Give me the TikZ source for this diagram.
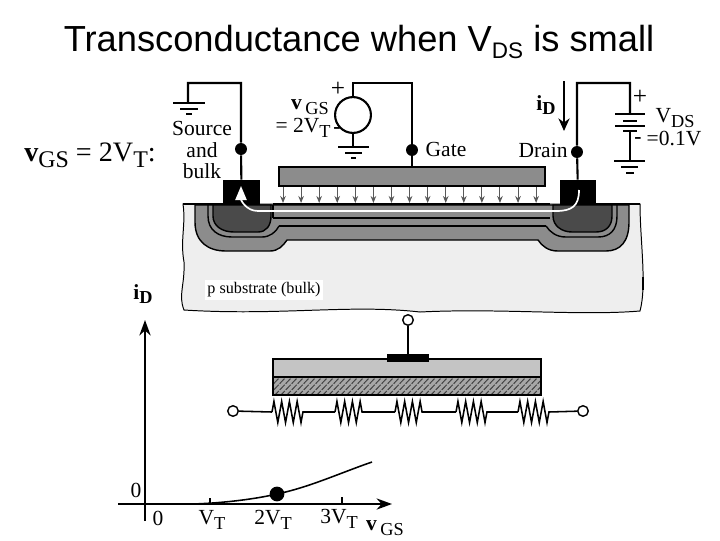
\documentclass[tikz,border=0pt]{standalone}
\usepackage{amsmath}
\usepackage{graphicx}
\usepackage{fontspec}
\setmainfont{Liberation Serif}
\newfontfamily\titlefont{Liberation Sans}
\usetikzlibrary{positioning,arrows.meta,decorations.pathmorphing}
\definecolor{bulkgray}{HTML}{EEEEEE}
\definecolor{wellgray}{HTML}{8C8C8C}
\definecolor{darkwell}{HTML}{4A4A4A}
\definecolor{polygray}{HTML}{C4C4C4}
\newcommand{\lowsub}[1]{\raisebox{-0.45ex}{\scalebox{0.85}{#1}}}

\begin{document}
\begin{tikzpicture}[
    x=0.025cm, y=-0.025cm,
    wire/.style={draw=black, line width=1.5pt},
    thinwire/.style={draw=black, line width=1.1pt},
    bar/.style={draw=black, line width=1.5pt},
    outline/.style={draw=black, line width=1pt},
    dotnode/.style={circle, fill=black, inner sep=0pt, minimum size=8.5pt},
    padnode/.style={fill=black, inner sep=0pt, minimum width=26pt, minimum height=18pt},
    termnode/.style={circle, draw=black, fill=white, line width=1pt, inner sep=0pt, minimum size=7.5pt},
    label/.style={font=\fontsize{15.3}{15}\selectfont, align=center, inner sep=0pt},
    fieldarrow/.style={draw=black!65, line width=0.7pt, -{Stealth[length=5pt,width=4pt]}}
]
    \useasboundingbox (0,0) rectangle (720,540);

    % Titolo
    \node[font=\titlefont\fontsize{25.8}{28}\selectfont, inner sep=0pt] (title) at (359,42) {Transconductance when V\raisebox{-0.4ex}{\scalebox{0.62}{DS}} is small};

    % Substrato
    \path[fill=bulkgray, draw=black, line width=0.7pt] (183,204) .. controls (186,225) and (180,240) .. (184,262) .. controls (185,285) and (178,295) .. (184,310) .. controls (280,316) and (350,304) .. (420,312) .. controls (500,308) and (580,316) .. (640,311) .. controls (647,285) and (640,240) .. (640,204) -- cycle;
    \draw[line width=1.5pt] (643,277) -- (643,290);

    % Pozzetti source e drain
    \path[fill=wellgray, outline] (195,205) -- (195,222) .. controls (195,242) and (208,251) .. (226,251) -- (270,251) .. controls (278,251) and (283,246) .. (287,240) -- (538,240) .. controls (542,246) and (548,251) .. (558,251) -- (606,251) .. controls (620,251) and (629,242) .. (629,222) -- (629,205) -- cycle;
    \draw[outline] (208,205) -- (208,216) .. controls (208,230) and (218,237) .. (232,237) -- (262,237) .. controls (270,237) and (276,232) .. (279,226);
    \draw[outline] (546,226) .. controls (550,232) and (556,237) .. (566,237) -- (598,237) .. controls (610,237) and (617,230) .. (617,216) -- (617,205);
    \path[fill=darkwell, outline] (213,205) -- (213,216) .. controls (213,226) and (222,232) .. (234,232) -- (258,232) .. controls (266,232) and (271,226) .. (271,216) -- (271,205) -- cycle;
    \path[fill=darkwell, outline] (553,205) -- (553,216) .. controls (553,226) and (562,232) .. (572,232) -- (596,232) .. controls (606,232) and (612,226) .. (612,216) -- (612,205) -- cycle;

    % Canale
    \draw[outline] (273,218) -- (550,218);
    \draw[outline] (279,226) -- (546,226);
    \draw[line width=1.5pt] (273,204) -- (550,204);
    \draw[outline] (273,205) -- (273,218);
    \draw[outline] (183,204) -- (223,204);
    \draw[outline] (596,204) -- (640,204);

    % Gate
    \path[fill=wellgray, wire] (279,167) rectangle (545,186);
    \foreach \xpos in {0,...,14} {
        \coordinate (fa\xpos) at ({283+18.08*\xpos},187);
        \coordinate (fb\xpos) at ({283+18.08*\xpos},203);
        \draw[fieldarrow] (fa\xpos) -- (fb\xpos);
    }

    % Contatti
    \node[padnode] (srcpad) at (241.5,192.5) {};
    \node[padnode] (drainpad) at (578,192.5) {};

    % Corrente nel canale
    \coordinate (arrowleft) at (241,186);
    \coordinate (arrowright) at (579,190);
    \draw[white, line width=1.2pt, {Triangle[length=10pt,width=8pt]}-] (arrowleft) .. controls (241,200) and (246,211) .. (258,211) -- (556,211) .. controls (572,211) and (579,206) .. (arrowright);

    % Massa e collegamento source
    \coordinate (srcgnd) at (188,103);
    \coordinate (srccorner) at (188,83);
    \coordinate (srctop) at (241,83);
    \node[dotnode] (srcdot) at (241,149) {};
    \draw[wire] (srcgnd) -- (srccorner) -- (srctop) -- (srcdot) -- (srcpad);
    \draw[bar] (173,103) -- (205,103);
    \draw[bar] (180,109) -- (198,109);
    \draw[bar] (186,114) -- (192,114);

    % Generatore di gate
    \node[circle, draw=black, line width=1.5pt, inner sep=0pt, minimum size=25.5pt] (vgs) at (353,115) {};
    \coordinate (vgsgnd) at (353,147);
    \coordinate (vgscorner) at (353,83);
    \coordinate (gatetop) at (412,83);
    \coordinate (gatepin) at (412,167);
    \node[dotnode] (gatedot) at (412,150) {};
    \draw[wire] (vgs) -- (vgscorner) -- (gatetop) -- (gatedot) -- (gatepin);
    \draw[wire] (vgs) -- (vgsgnd);
    \draw[bar] (338,147) -- (369,147);
    \draw[bar] (345,153) -- (362,153);
    \draw[bar] (351,158) -- (356,158);

    % Batteria e drain
    \node[dotnode] (draindot) at (577,152) {};
    \coordinate (draintop) at (577,83);
    \coordinate (batcorner) at (630,83);
    \coordinate (battop) at (630,114);
    \coordinate (batlow) at (630,131);
    \coordinate (batgnd) at (630,161);
    \draw[wire] (drainpad) -- (draindot) -- (draintop) -- (batcorner) -- (battop);
    \draw[wire] (batlow) -- (batgnd);
    \draw[bar] (615,114) -- (645,114);
    \draw[bar] (623,121) -- (637,121);
    \draw[bar] (615,126) -- (645,126);
    \draw[bar] (623,131) -- (637,131);
    \draw[bar] (614,161) -- (645,161);
    \draw[bar] (621,167) -- (638,167);
    \draw[bar] (626,173) -- (634,173);

    \coordinate (idtop) at (564,81);
    \coordinate (idtip) at (564,131);
    \draw[line width=1pt, -{Stealth[length=9pt,width=8pt]}] (idtop) -- (idtip);

    % Etichette in alto
    \node[label, font=\fontsize{20}{22}\selectfont] (vgsmain) at (90,155) {\textbf{v}\lowsub{GS} = 2V\lowsub{T}:};
    \node[label] (srclabel) at (202,150) {Source\\and\\bulk};
    \node[label] (vgsname) at (310,107) {\textbf{v}\,\lowsub{GS}};
    \node[label] (vgsval) at (303,128) {= 2V\lowsub{T}};
    \node[label, font=\fontsize{18}{18}\selectfont] (vgsplus) at (338,89) {+};
    \node[label, font=\bfseries\fontsize{15.3}{15}\selectfont] (vgsminus) at (337,131) {-};
    \node[label] (gatelabel) at (446,149) {Gate};
    \node[label] (drainlabel) at (543,150) {Drain};
    \node[label] (idlabel) at (546,105) {\textbf{i\lowsub{D}}};
    \node[label, font=\fontsize{18}{18}\selectfont] (batplus) at (640,97) {+};
    \node[label, font=\bfseries\fontsize{15.3}{15}\selectfont] (batminus) at (638,141) {-};
    \node[label] (vdsname) at (675,118) {V\lowsub{DS}};
    \node[label] (vdsval) at (674,139) {=0.1V};
    \node[label, font=\fontsize{11.5}{13}\selectfont, fill=white, inner sep=2pt] (sublabel) at (264,290) {p substrate (bulk)};

    % Modello a resistori
    \node[termnode] (gateterm) at (408,320) {};
    \path[fill=polygray, wire] (273,359) rectangle (541,377);
    \begin{scope}
        \clip (273,378) rectangle (541,395);
        \fill[polygray!85!black] (273,378) rectangle (541,395);
        \foreach \xpos in {0,...,48} {
            \draw[black!75, line width=0.7pt, dash pattern=on 5pt off 1pt] ({262+6*\xpos},396) -- ({262+6*\xpos+18},377);
        }
    \end{scope}
    \draw[wire] (273,377) rectangle (541,395);
    \node[fill=black, inner sep=0pt, minimum width=30.5pt, minimum height=5pt] (gatebar) at (408,358) {};
    \draw[wire] (gateterm) -- (gatebar);

    \node[termnode] (leftterm) at (233,411) {};
    \node[termnode] (rightterm) at (583,411) {};
    \foreach \rname/\xa/\xb in {ra/272/303, rb/335/365, rc/395/425, rd/456/487, re/518/549} {
        \coordinate (\rname-a) at (\xa,412);
        \coordinate (\rname-b) at (\xb,412);
        \draw[thinwire, decorate, decoration={zigzag, amplitude=7.5pt, segment length=5.5pt}] (\rname-a) -- (\rname-b);
    }
    \draw[thinwire] (leftterm) -- (ra-a);
    \draw[thinwire] (ra-b) -- (rb-a);
    \draw[thinwire] (rb-b) -- (rc-a);
    \draw[thinwire] (rc-b) -- (rd-a);
    \draw[thinwire] (rd-b) -- (re-a);
    \draw[thinwire] (re-b) -- (rightterm);

    % Grafico
    \coordinate (ybottom) at (145,521);
    \coordinate (ytop) at (145,320);
    \coordinate (xleft) at (118,504);
    \coordinate (xright) at (392,504);
    \draw[line width=1.7pt, -{Stealth[length=11pt,width=8pt]}] (ybottom) -- (ytop);
    \draw[thinwire, -{Stealth[length=11pt,width=8pt]}] (xleft) -- (xright);
    \draw[line width=1.2pt] (210,498) -- (210,504);
    \draw[line width=1.5pt] (342,497) -- (342,504);
    \node[circle, fill=black, inner sep=0pt, minimum size=10.5pt] (qpoint) at (277,494) {};
    \coordinate (curvestart) at (192,504);
    \coordinate (curveend) at (372,462);
    \draw[line width=1.1pt] (curvestart) .. controls (225,503) and (255,499) .. (qpoint.center) .. controls (310,487) and (340,473) .. (curveend);

    \node[label] (ydlabel) at (143,294) {\textbf{i\lowsub{D}}};
    \node[label] (yzero) at (136,490) {0};
    \node[label] (xzero) at (158,518) {0};
    \node[label] (vt) at (212,520) {V\lowsub{T}};
    \node[label] (twovt) at (273,520) {2V\lowsub{T}};
    \node[label] (threevt) at (339,519) {3V\lowsub{T}};
    \node[label] (vgsaxis) at (385,528) {\textbf{v}\,\lowsub{GS}};
\end{tikzpicture}
\end{document}
